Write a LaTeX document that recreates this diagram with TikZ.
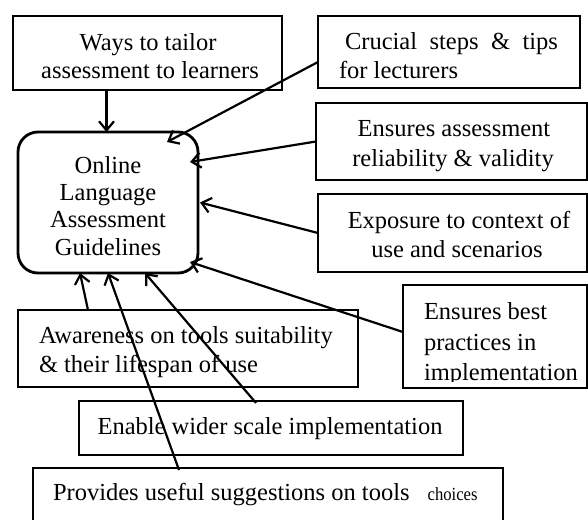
\documentclass[tikz,border=0pt]{standalone}
\usepackage{fontspec}
\usepackage{graphicx}
\setmainfont{Liberation Serif}
\usetikzlibrary{arrows.meta,calc}
\begin{document}
\begin{tikzpicture}[x=1pt,y=-1pt,
  box/.style={draw, line width=2.2pt, rectangle, inner sep=0pt, outer sep=0pt, anchor=north west},
  hub/.style={draw, line width=2.8pt, rounded corners=20pt, inner sep=0pt, outer sep=0pt, anchor=north west},
  txt/.style={font=\fontsize{24.5}{29}\selectfont, inner sep=0pt, outer sep=0pt},
  arr/.style={line width=2.2pt, -{Straight Barb[length=9pt,width=15pt,line width=2.2pt]}}
]
\useasboundingbox (0,0) rectangle (588,519);
\clip (0,0) rectangle (588,519);

% boxes
\node[box, minimum width=269pt, minimum height=74pt] (b1) at (13,16) {};
\node[box, minimum width=262pt, minimum height=72pt] (b2) at (318,16) {};
\node[box, minimum width=271pt, minimum height=77pt] (b3) at (316,103) {};
\node[box, minimum width=269pt, minimum height=78pt] (b4) at (318,194) {};
\node[box, minimum width=184pt, minimum height=103pt] (b5) at (403,285) {};
\node[box, minimum width=340pt, minimum height=77pt] (b6) at (18,310) {};
\node[box, minimum width=384pt, minimum height=54pt] (b7) at (79,401) {};
\node[box, minimum width=470pt, minimum height=70pt] (b8) at (33,468) {};
\node[hub, minimum width=180pt, minimum height=141pt] (c) at (18,132) {};

% texts
\node[txt, anchor=base] (t1a) at (148,50) {Ways to tailor};
\node[txt, anchor=base] (t1b) at (150,78) {assessment to learners};

\node[txt, anchor=base west] (t2a) at (345,49) {\makebox[213pt][s]{Crucial steps \& tips}};
\node[txt, anchor=base west] (t2b) at (339,78) {for lecturers};

\node[txt, anchor=base] (t3a) at (454,136) {Ensures assessment};
\node[txt, anchor=base] (t3b) at (453,166) {reliability \& validity};

\node[txt, anchor=base] (t4a) at (459,228) {Exposure to context of};
\node[txt, anchor=base] (t4b) at (457,257) {use and scenarios};

\begin{scope}
\clip (403,285) rectangle (588,381);
\node[txt, anchor=base west] (t5a) at (424,319) {Ensures best};
\node[txt, anchor=base west] (t5b) at (424,350) {practices in};
\node[txt, anchor=base west] (t5c) at (424,380) {implementation};
\end{scope}

\node[txt, anchor=base west] (t6a) at (39,343) {Awareness on tools suitability};
\node[txt, anchor=base west] (t6b) at (39,372) {\& their lifespan of use};

\node[txt, anchor=base] (t7) at (270,434) {Enable wider scale implementation};

\node[txt, anchor=base west] (t8) at (53,500) {Provides useful suggestions on tools\hspace{18pt}\scalebox{0.9}[1]{\fontsize{18.5}{22}\selectfont choices}};

\node[txt, anchor=base] (c1) at (108,173) {Online};
\node[txt, anchor=base] (c2) at (108,200) {Language};
\node[txt, anchor=base] (c3) at (108,227) {Assessment};
\node[txt, anchor=base] (c4) at (108,255) {Guidelines};

% connectors
\draw[arr] ([xshift=-41pt]b1.south) -- ([xshift=-41pt]b1.south |- c.north);
\draw[arr] ($(b2.north west)+(0,46)$) -- ($(c.north east)+(-31,10)$);
\draw[arr] (b3.west) -- ($(c.north east)+(-8,30)$);
\draw[arr] (b4.west) -- ($(c.east)+(2,0)$);
\draw[arr] ($(b5.north west)+(0,47)$) -- ($(c.south east)+(-8,-11)$);
\draw[arr] ($(b6.north west)+(70,0)$) -- ($(c.south west)+(62,0)$);
\draw[arr] ($(b7.north west)+(177,2)$) -- ($(c.south west)+(127,0)$);
\draw[arr] ($(b8.north west)+(146,2)$) -- ($(c.south west)+(90,0)$);
\end{tikzpicture}
\end{document}
